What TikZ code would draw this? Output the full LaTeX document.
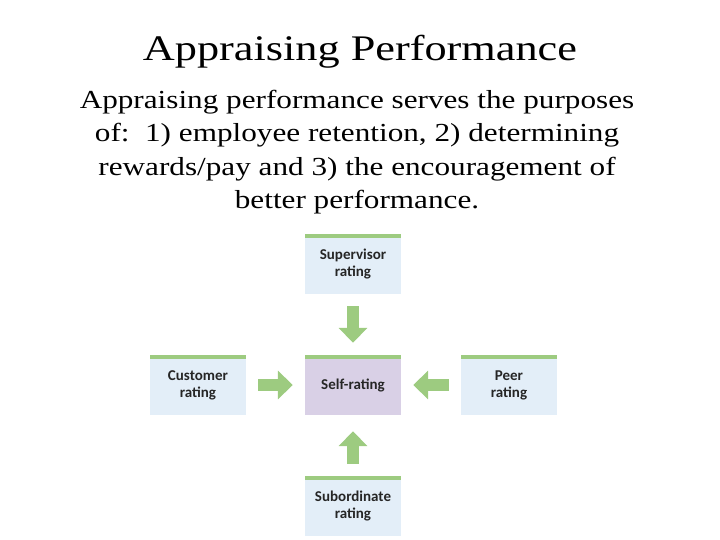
\documentclass[tikz,border=0pt]{standalone}
\usepackage{fontspec}
\setmainfont{Liberation Serif}[FakeStretch=1.2]
\newfontfamily\titlefont{Liberation Serif}[FakeStretch=1.23]
\newfontfamily\boxfont{Carlito}
\usetikzlibrary{arrows.meta}
\definecolor{gbar}{HTML}{9DCB80}
\definecolor{bbox}{HTML}{E3EEF8}
\definecolor{pbox}{HTML}{D9D0E6}
\tikzset{
  rbox/.style={minimum width=96pt,minimum height=60pt,inner sep=0pt,fill=bbox,align=center,
    font=\boxfont\bfseries\fontsize{15}{17}\selectfont,text=black!85,
    path picture={\fill[gbar] (path picture bounding box.north west) rectangle ([yshift=-4pt]path picture bounding box.north east);}},
  garrow/.style={draw=gbar,line width=12pt,-{Triangle[width=28pt,length=15pt]},shorten <=12pt,shorten >=12pt}
}
\begin{document}
\begin{tikzpicture}[x=1pt,y=-1pt]
\useasboundingbox (0,0) rectangle (720,540);
\node[font=\titlefont\fontsize{36}{40}\selectfont] (title) at (360,52) {Appraising Performance};
\node[align=center,font=\fontsize{26}{33.5}\selectfont] (body) at (357,152) {Appraising performance serves the purposes\\of:\ \ 1) employee retention, 2) determining\\rewards/pay and 3) the encouragement of\\better performance.};
\node[rbox] (sup) at (353,264) {Supervisor\\rating};
\node[rbox,fill=pbox] (self) at (353,385) {Self-rating};
\node[rbox] (cust) at (198,385) {Customer\\rating};
\node[rbox] (peer) at (509,385) {Peer\\rating};
\node[rbox] (sub) at (353,506) {Subordinate\\rating};
\draw[garrow] (sup.south) -- (self.north);
\draw[garrow] (cust.east) -- (self.west);
\draw[garrow] (peer.west) -- (self.east);
\draw[garrow] (sub.north) -- ([yshift=-4pt]self.south);
\end{tikzpicture}
\end{document}
